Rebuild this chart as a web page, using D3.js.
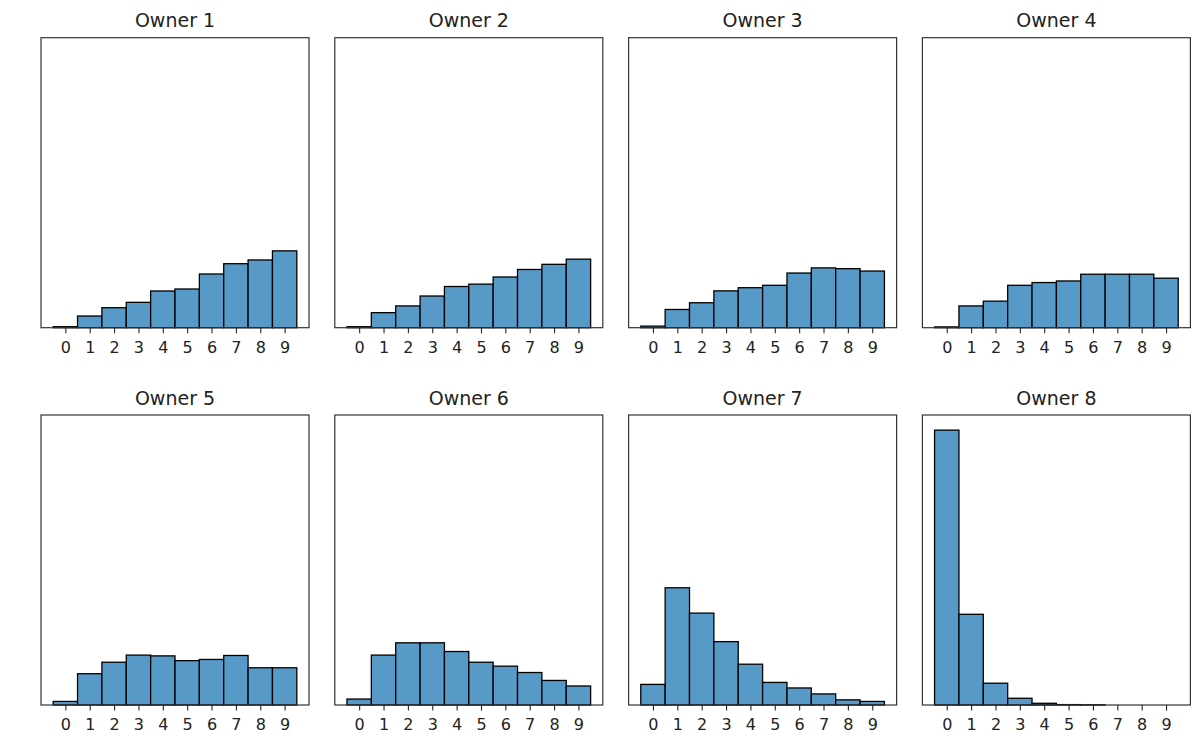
<!DOCTYPE html>
<html>
<head>
<meta charset="utf-8">
<script src="https://cdn.jsdelivr.net/npm/d3@7"></script>
<style>
  html, body { margin: 0; padding: 0; background: #fff; }
  svg { display: block; font-family: "DejaVu Sans", sans-serif; }
</style>
</head>
<body>
<svg id="chart" width="1200" height="745"></svg>
<script>
// ---- data (proportions per owner) ----
const categories = [0, 1, 2, 3, 4, 5, 6, 7, 8, 9];
const tickLabels = ["0", "1", "2", "3", "4", "5", "6", "7", "8", "9"];
const owners = ["Owner 1", "Owner 2", "Owner 3", "Owner 4", "Owner 5", "Owner 6", "Owner 7", "Owner 8"];

const owner1 = [0.0025, 0.0295, 0.0505, 0.064, 0.0927, 0.0977, 0.1356, 0.1616, 0.171, 0.194];
const owner2 = [0.0025, 0.038, 0.055, 0.080, 0.104, 0.110, 0.128, 0.147, 0.160, 0.173];
const owner3 = [0.004, 0.046, 0.063, 0.093, 0.101, 0.107, 0.138, 0.151, 0.149, 0.143];
const owner4 = [0.002, 0.055, 0.067, 0.107, 0.114, 0.118, 0.135, 0.135, 0.135, 0.125];
const owner5 = [0.009, 0.079, 0.108, 0.126, 0.124, 0.112, 0.115, 0.125, 0.094, 0.094];
const owner6 = [0.015, 0.126, 0.157, 0.157, 0.135, 0.108, 0.098, 0.082, 0.062, 0.048];
const owner7 = [0.052, 0.296, 0.232, 0.160, 0.103, 0.057, 0.043, 0.028, 0.013, 0.009];
const owner8 = [0.694, 0.229, 0.055, 0.017, 0.0043, 0.001, 0.0005, 0, 0, 0];

const seriesList = [owner1, owner2, owner3, owner4, owner5, owner6, owner7, owner8];

// ---- layout ----
const svg = d3.select("#chart");
const panelW = 268, panelH = 290;
const left0 = 41, colStep = 293.8;
const top0 = 37.7, rowStep = 377.3;
const barFill = "#5799c7";

const globalMax = d3.max(seriesList, s => d3.max(s));
const y = d3.scaleLinear().domain([0, globalMax * 1.055]).range([panelH, 0]);
const x = d3.scaleLinear().domain([-1, 10]).range([0, panelW]);

seriesList.forEach((vals, k) => {
  const col = k % 4, row = Math.floor(k / 4);
  const g = svg.append("g")
    .attr("transform", `translate(${left0 + col * colStep},${top0 + row * rowStep})`);

  g.selectAll("rect.bar")
    .data(categories)
    .enter().append("rect")
    .attr("class", "bar")
    .attr("x", d => x(d - 0.5))
    .attr("width", d => x(d + 0.5) - x(d - 0.5))
    .attr("y", d => y(vals[d]))
    .attr("height", d => y(0) - y(vals[d]))
    .attr("fill", barFill)
    .attr("stroke", "#000")
    .attr("stroke-width", 1.3);

  const axis = d3.axisBottom(x)
    .tickValues(categories)
    .tickFormat((d, i) => tickLabels[i])
    .tickSize(5.6)
    .tickSizeOuter(0)
    .tickPadding(8.5);

  const ax = g.append("g")
    .attr("transform", `translate(0,${panelH})`)
    .call(axis);
  ax.select(".domain").remove();
  ax.selectAll(".tick line").attr("stroke", "#222").attr("stroke-width", 1.1);
  ax.selectAll(".tick text")
    .attr("fill", "#222")
    .style("font-size", "16px")
    .style("font-family", "DejaVu Sans, sans-serif");

  // frame
  g.append("rect")
    .attr("x", 0).attr("y", 0)
    .attr("width", panelW).attr("height", panelH)
    .attr("fill", "none")
    .attr("stroke", "#333")
    .attr("stroke-width", 1.2);

  g.append("text")
    .attr("x", panelW / 2)
    .attr("y", -10.5)
    .attr("text-anchor", "middle")
    .attr("fill", "#222")
    .style("font-size", "19px")
    .text(owners[k]);
});
</script>
</body>
</html>
